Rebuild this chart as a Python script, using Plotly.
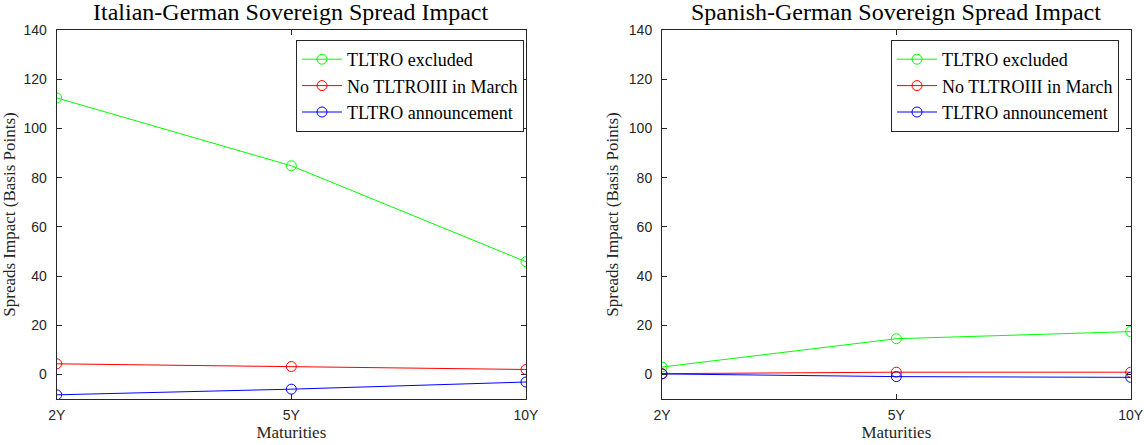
import plotly.graph_objects as go

maturities = ["2Y", "5Y", "10Y"]
series_names = ["TLTRO excluded", "No TLTROIII in March", "TLTRO announcement"]
series_colors = ["#00ff00", "#ff0000", "#0000ff"]

it_excluded = [112.4, 84.8, 45.8]
it_no_march = [4.3, 3.2, 2.0]
it_announce = [-8.3, -6.0, -3.1]

es_excluded = [3.0, 14.5, 17.4]
es_no_march = [0.3, 0.9, 0.9]
es_announce = [0.2, -0.9, -1.2]

titles = ["Italian-German Sovereign Spread Impact", "Spanish-German Sovereign Spread Impact"]
y_ticks = [0, 20, 40, 60, 80, 100, 120, 140]

W, H = 1144, 445
SERIF = "Liberation Serif"
SANS = "Liberation Sans"
AX = "#262626"

fig = go.Figure()

panels = [
    ("x", "y", "legend", [it_excluded, it_no_march, it_announce]),
    ("x2", "y2", "legend2", [es_excluded, es_no_march, es_announce]),
]
for xa, ya, lg, data in panels:
    for name, col, vals in zip(series_names, series_colors, data):
        fig.add_trace(go.Scatter(
            x=[0, 1, 2], y=vals, name=name, xaxis=xa, yaxis=ya, legend=lg,
            mode="lines+markers",
            line=dict(color=col, width=1),
            marker=dict(symbol="circle-open", size=10, color=col, line=dict(width=1)),
        ))

px = lambda p: p / W
py = lambda p: 1 - p / H

doms = [(px(56.7), px(526)), (px(662), px(1130.7))]
ydom = [py(399), py(30)]

axis_common = dict(
    showline=True, mirror="ticks", linecolor=AX, linewidth=1,
    ticks="inside", ticklen=5, tickcolor=AX, tickwidth=1, showgrid=False, zeroline=False,
    automargin=False,
    tickfont=dict(family=SANS, size=14, color=AX),
)

for i, (d0, d1) in enumerate(doms):
    sx = "" if i == 0 else "2"
    fig.update_layout(**{
        f"xaxis{sx}": dict(
            domain=[d0, d1], anchor=f"y{sx}", range=[0, 2],
            tickmode="array", tickvals=[0, 1, 2], ticktext=maturities,
            ticklabelstandoff=3,
            title=dict(text="Maturities", font=dict(family=SERIF, size=17, color=AX), standoff=0),
            **axis_common,
        ),
        f"yaxis{sx}": dict(
            domain=ydom, anchor=f"x{sx}", range=[-10, 140],
            tickmode="array", tickvals=y_ticks,
            ticklabelstandoff=6,
            title=dict(text="Spreads Impact (Basis Points)", font=dict(family=SERIF, size=17, color=AX), standoff=5),
            **axis_common,
        ),
    })
    fig.add_annotation(
        text=titles[i], xref="paper", yref="paper", x=(d0 + d1) / 2, y=py(12),
        xanchor="center", yanchor="middle", showarrow=False,
        font=dict(family=SERIF, size=24, color="#000000"),
    )

legend_common = dict(
    bgcolor="white", bordercolor=AX, borderwidth=1,
    font=dict(family=SERIF, size=18, color="#000000"),
    xanchor="right", yanchor="top", tracegroupgap=0, itemwidth=40,
)
fig.update_layout(
    template="none",
    width=W, height=H,
    margin=dict(l=0, r=0, t=0, b=0, pad=0),
    paper_bgcolor="white", plot_bgcolor="white",
    showlegend=True,
    hovermode=False,
    legend=dict(x=px(524), y=py(40), **legend_common),
    legend2=dict(x=px(1119), y=py(40), **legend_common),
)

fig.write_html(
    "out.html",
    config={"displayModeBar": False},
    post_script="document.body.style.margin='0';document.body.style.padding='0';document.body.style.overflow='hidden';",
)
